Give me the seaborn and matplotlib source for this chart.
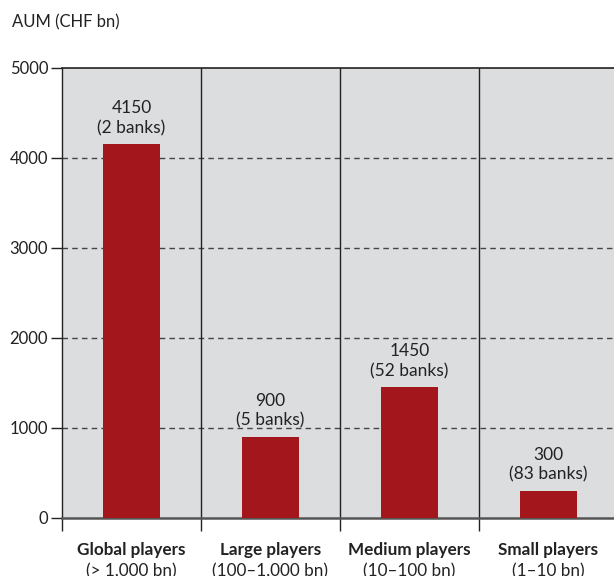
import matplotlib
matplotlib.use("Agg")
import matplotlib.pyplot as plt
import seaborn as sns
import pandas as pd

# data
categories = ["Global players", "Large players", "Medium players", "Small players"]
ranges = ["(> 1,000 bn)", "(100\u20131,000 bn)", "(10\u2013100 bn)", "(1\u201310 bn)"]
aum = [4150, 900, 1450, 300]
banks = [2, 5, 52, 83]
yticks = [0, 1000, 2000, 3000, 4000, 5000]

df = pd.DataFrame({"category": categories, "aum": aum})

sns.set_style("white")
plt.rcParams["font.family"] = ["Lato", "DejaVu Sans"]

fig = plt.figure(figsize=(6.14, 5.76), dpi=100)
ax = fig.add_axes([0.101, 0.1007, 0.905, 0.7813])
ax.set_facecolor("#dcdddf")

sns.barplot(data=df, x="category", y="aum", color="#a3171c", width=0.41,
            saturation=1, edgecolor="none", linewidth=0, ax=ax, zorder=3)

ax.set_xlim(-0.5, 3.5)
ax.set_ylim(0, 5000)

# dashed gridlines
for y in yticks[1:-1]:
    ax.axhline(y, color="#444444", lw=1, ls=(0, (4, 3)), zorder=1)
# category dividers
for xd in [0.5, 1.5, 2.5]:
    ax.axvline(xd, color="#222222", lw=1, zorder=2)

ax.spines["right"].set_visible(False)
ax.spines["top"].set_color("#222222")
ax.spines["left"].set_color("#222222")
ax.spines["bottom"].set_color("#555555")
ax.spines["bottom"].set_linewidth(1.8)
ax.spines["top"].set_linewidth(1.2)
ax.spines["left"].set_linewidth(1.0)

ax.set_yticks(yticks)
ax.set_yticklabels([str(v) for v in yticks], fontsize=12, color="#222222")
ax.tick_params(axis="y", length=8, width=1, color="#222222", pad=2, left=True)

ax.set_xticks([-0.5, 0.5, 1.5, 2.5])
ax.set_xticklabels([])
ax.tick_params(axis="x", length=9, width=1, color="#222222", bottom=True, direction="out")
ax.set_xlabel("")
ax.set_ylabel("")

# value labels
for i, (v, b) in enumerate(zip(aum, banks)):
    ax.text(i, v + 90, f"{v}\n({b} banks)", ha="center", va="bottom",
            fontsize=12.5, color="#222222", linespacing=1.3, zorder=4)

# category labels under the axis
for i, (c, r) in enumerate(zip(categories, ranges)):
    ax.text(i, -360, c, ha="center", va="center", fontsize=12.3,
            fontweight="bold", color="#222222", clip_on=False)
    ax.text(i, -590, r, ha="center", va="center", fontsize=12.3,
            color="#222222", clip_on=False)

fig.text(0.02, 0.962, "AUM (CHF bn)", ha="left", va="center", fontsize=12,
         color="#222222")

fig.savefig("out.png", dpi=100)
